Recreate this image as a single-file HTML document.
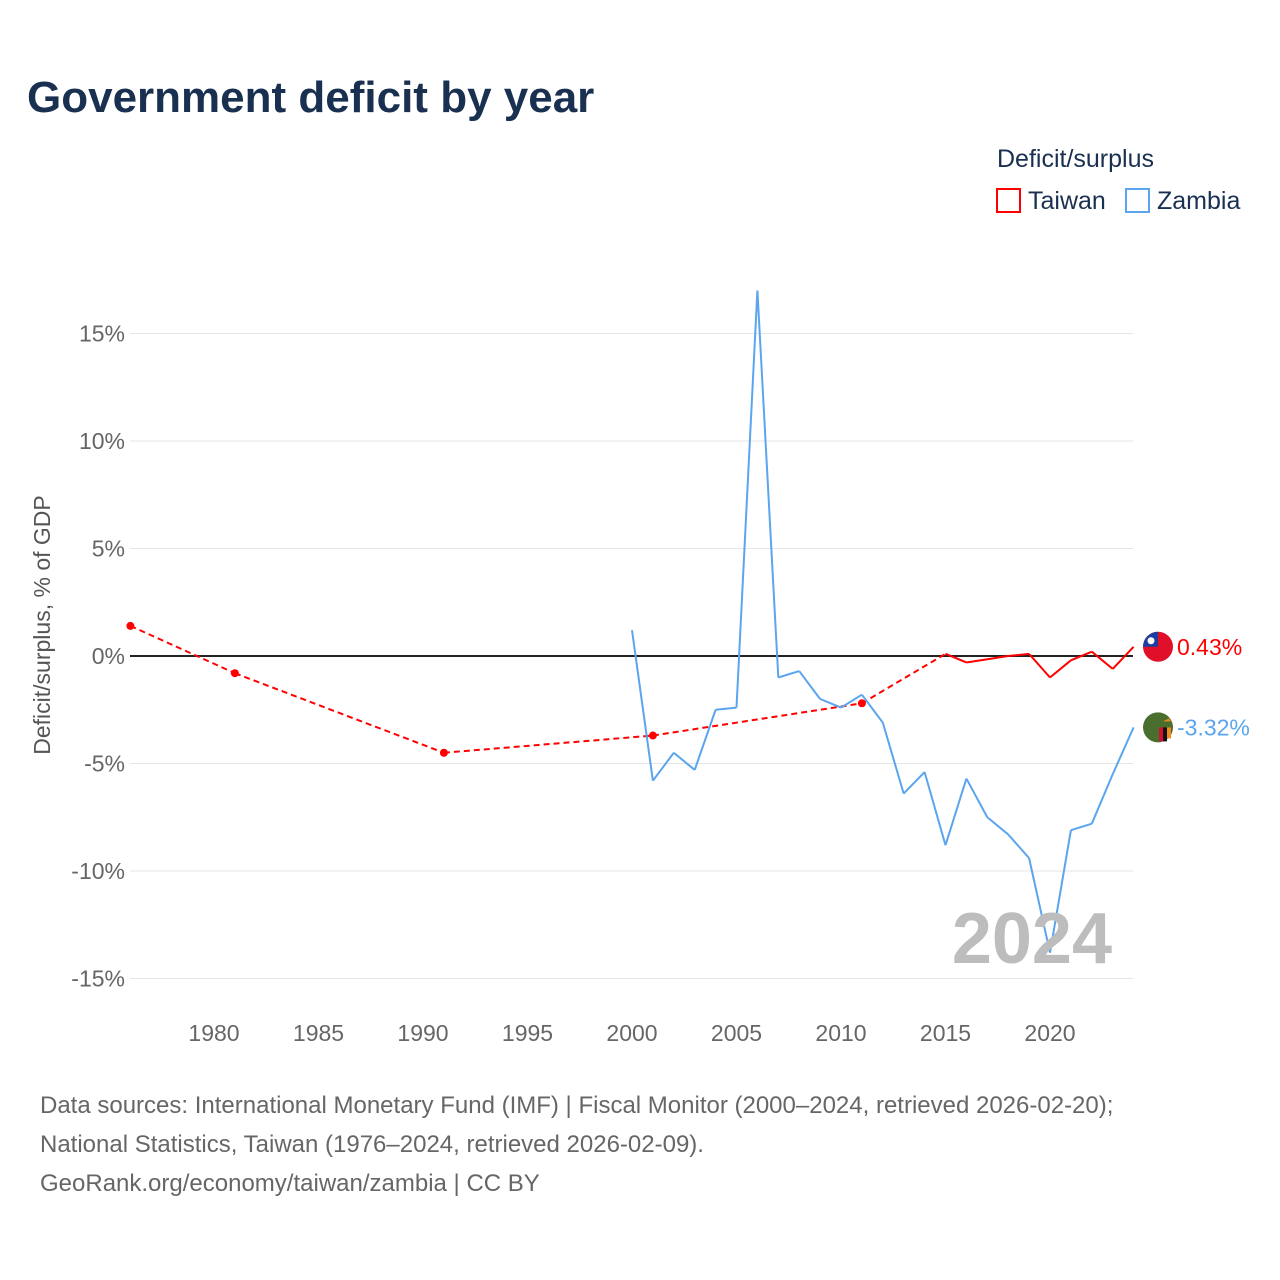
<!DOCTYPE html>
<html><head><meta charset="utf-8"><style>
body{margin:0;background:#fff;font-family:"Liberation Sans",sans-serif;}
#wrap{position:relative;width:1280px;height:1280px;overflow:hidden;}
</style></head><body>
<div id="wrap">
<svg id="svg" width="1280" height="1280" xmlns="http://www.w3.org/2000/svg">
<text x="27" y="112" font-size="44" font-weight="bold" fill="#1a3050">Government deficit by year</text>
<text x="997" y="167" font-size="25" fill="#1a3050">Deficit/surplus</text>
<g><rect x="997" y="189" width="23" height="23" fill="none" stroke="#ff0000" stroke-width="2"/><text x="1028" y="209" font-size="25" fill="#1a3050">Taiwan</text></g>
<g><rect x="1126" y="189" width="23" height="23" fill="none" stroke="#5aa5ee" stroke-width="2"/><text x="1157" y="209" font-size="25" fill="#1a3050">Zambia</text></g>
<g id="grid"></g>
<g id="marks"></g>
<text transform="translate(50,625) rotate(-90)" text-anchor="middle" font-size="23" fill="#555">Deficit/surplus, % of GDP</text>
<text x="1112" y="963" text-anchor="end" font-size="72" font-weight="bold" fill="#bdbdbd">2024</text>
<text x="40" y="1113" font-size="24" fill="#666">Data sources: International Monetary Fund (IMF) | Fiscal Monitor (2000–2024, retrieved 2026-02-20);</text>
<text x="40" y="1152" font-size="24" fill="#666">National Statistics, Taiwan (1976–2024, retrieved 2026-02-09).</text>
<text x="40" y="1191" font-size="24" fill="#666">GeoRank.org/economy/taiwan/zambia | CC BY</text>
</svg></div>
<script>
const yTicks=[15,10,5,0,-5,-10,-15];
const xTicks=[1980,1985,1990,1995,2000,2005,2010,2015,2020];
const twYears=[1976,1981,1991,2001,2011,2015,2016,2017,2018,2019,2020,2021,2022,2023,2024];
const twVals=[1.4,-0.8,-4.5,-3.7,-2.2,0.1,-0.3,-0.15,0.0,0.1,-1.0,-0.2,0.2,-0.6,0.43];
const zmYears=[2000,2001,2002,2003,2004,2005,2006,2007,2008,2009,2010,2011,2012,2013,2014,2015,2016,2017,2018,2019,2020,2021,2022,2023,2024];
const zmVals=[1.2,-5.8,-4.5,-5.3,-2.5,-2.4,17.0,-1.0,-0.7,-2.0,-2.4,-1.8,-3.1,-6.4,-5.4,-8.8,-5.7,-7.5,-8.3,-9.4,-13.8,-8.1,-7.8,-5.5,-3.32];
const NS="http://www.w3.org/2000/svg";
const X=y=>214+(y-1980)*20.9;
const Y=v=>656-v*21.5;
const grid=document.getElementById('grid'),marks=document.getElementById('marks');
function mk(tag,at,parent){const e=document.createElementNS(NS,tag);for(const k in at)e.setAttribute(k,at[k]);parent.appendChild(e);return e;}
yTicks.forEach(t=>{
 const l=mk('line',{x1:130,x2:1133,y1:Y(t),y2:Y(t),stroke:t===0?'#222':'#e6e6e6','stroke-width':t===0?2:1},grid);
 
 
 const tx=mk('text',{x:125,y:Y(t)+8,'text-anchor':'end','font-size':23,fill:'#666'},grid);
 tx.textContent=t+'%';
 
 
});
xTicks.forEach(t=>{
 const tx=mk('text',{x:X(t),y:1041,'text-anchor':'middle','font-size':23,fill:'#666'},grid);
 tx.textContent=t;
 
 
});
function series(years,vals,color,name){
 for(let i=1;i<years.length;i++){
  const gap=years[i]-years[i-1]>1;
  const l=mk('line',{x1:X(years[i-1]),y1:Y(vals[i-1]),x2:X(years[i]),y2:Y(vals[i]),stroke:color,'stroke-width':2},marks);
  if(gap)l.setAttribute('stroke-dasharray','6,4');
  
  
 }
 years.forEach((yr,i)=>{
  const gapB=i>0&&yr-years[i-1]>1, gapA=i<years.length-1&&years[i+1]-yr>1;
  if(gapA&&(gapB||i===0)){
   const c=mk('circle',{cx:X(yr),cy:Y(vals[i]),r:4,fill:color},marks);
   
   
  }
 });
}
series(twYears,twVals,'#ff0000','taiwan-line');
series(zmYears,zmVals,'#5aa5ee','zambia-line');
// end labels
const tv=twVals[twVals.length-1], zv=zmVals[zmVals.length-1];
const fx=1158;
let g=mk('g',{},marks);


mk('circle',{cx:fx,cy:Y(tv),r:15,fill:'#e0102a'},g);
mk('path',{d:`M${fx-15},${Y(tv)} A15 15 0 0 1 ${fx},${Y(tv)-15} L${fx},${Y(tv)} Z`,fill:'#1a3fa0'},g);
mk('circle',{cx:fx-7,cy:Y(tv)-6,r:3.5,fill:'#fff'},g);
g=mk('g',{},marks);


mk('circle',{cx:fx,cy:Y(zv),r:15,fill:'#4a6e2e'},g);
mk('rect',{x:fx+1,y:Y(zv),width:4,height:14,fill:'#d21034'},g);
mk('rect',{x:fx+5,y:Y(zv),width:4,height:14,fill:'#111'},g);
mk('rect',{x:fx+9,y:Y(zv),width:4,height:11,fill:'#f08a1c'},g);
mk('path',{d:`M${fx+5},${Y(zv)-6} l6,-3 l2,3 z`,fill:'#f08a1c'},g);
let t=mk('text',{x:1177,y:Y(tv)+8,'font-size':23,fill:'#ff0000'},marks);
t.textContent=tv.toFixed(2)+'%';


t=mk('text',{x:1177,y:Y(zv)+8,'font-size':23,fill:'#5aa5ee'},marks);
t.textContent=zv.toFixed(2)+'%';


</script>
</body></html>
